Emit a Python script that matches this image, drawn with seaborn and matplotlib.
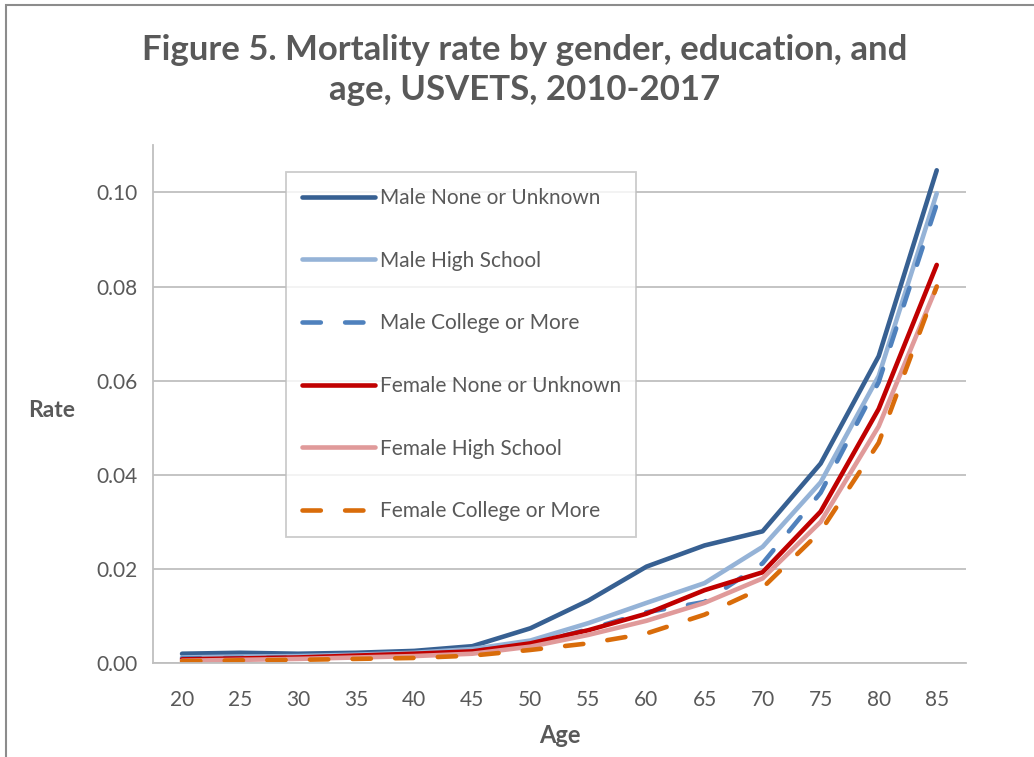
import matplotlib.pyplot as plt
import numpy as np
import pandas as pd
import seaborn as sns
from matplotlib.patches import Rectangle

# Data
ages = [20, 25, 30, 35, 40, 45, 50, 55, 60, 65, 70, 75, 80, 85]
male_none = [0.0020, 0.0022, 0.0020, 0.0022, 0.0026, 0.0036, 0.0074, 0.0133, 0.0205, 0.0250, 0.0280, 0.0424, 0.0652, 0.1047]
male_hs = [0.0012, 0.0014, 0.0015, 0.0018, 0.0022, 0.0030, 0.0048, 0.0085, 0.0128, 0.0170, 0.0247, 0.0384, 0.0610, 0.0998]
male_college = [0.0010, 0.0011, 0.0012, 0.0014, 0.0018, 0.0025, 0.0040, 0.0072, 0.0108, 0.0130, 0.0212, 0.0362, 0.0597, 0.0975]
female_none = [0.0008, 0.0010, 0.0012, 0.0016, 0.0020, 0.0025, 0.0042, 0.0070, 0.0105, 0.0155, 0.0193, 0.0322, 0.0540, 0.0846]
female_hs = [0.0005, 0.0007, 0.0009, 0.0012, 0.0015, 0.0020, 0.0035, 0.0060, 0.0090, 0.0128, 0.0180, 0.0300, 0.0503, 0.0800]
female_college = [0.0004, 0.0006, 0.0007, 0.0009, 0.0011, 0.0016, 0.0028, 0.0042, 0.0063, 0.0103, 0.0160, 0.0280, 0.0468, 0.0800]

series_names = ['Male None or Unknown', 'Male High School', 'Male College or More',
                'Female None or Unknown', 'Female High School', 'Female College or More']
series_values = [male_none, male_hs, male_college, female_none, female_hs, female_college]

colors = ['#376092', '#95B3D7', '#4F81BD', '#C00000', '#E09A9A', '#D96C0A']
dash_styles = ['', '', (4, 5.3), '', '', (4, 5.3)]

df = pd.DataFrame({
    'Age': ages * len(series_names),
    'Rate': sum(series_values, []),
    'Series': [n for n in series_names for _ in ages],
})

sns.set_style("white")
plt.rcParams['font.family'] = ['Lato', 'DejaVu Sans']
text_color = '#595959'

fig = plt.figure(figsize=(10.34, 7.57), dpi=100)
ax = fig.add_axes([0.148, 0.124, 0.786, 0.684])

sns.lineplot(data=df, x='Age', y='Rate', hue='Series', style='Series',
             hue_order=series_names, style_order=series_names,
             palette=dict(zip(series_names, colors)),
             dashes=dict(zip(series_names, dash_styles)),
             linewidth=3.3, ax=ax, legend=False)

for line in ax.get_lines():
    line.set_solid_capstyle('round')
    line.set_dash_capstyle('round')

ax.set_xlim(17.5, 87.5)
ax.set_ylim(0, 0.11)
ax.set_xticks(ages)
ax.set_yticks(np.arange(0, 0.101, 0.02))
ax.set_yticklabels([f'{v:.2f}' for v in np.arange(0, 0.101, 0.02)])
ax.yaxis.grid(True, color='#BFBFBF', linewidth=1.3)
ax.set_axisbelow(True)
ax.tick_params(axis='y', length=0, labelsize=15, labelcolor=text_color, pad=11)
ax.tick_params(axis='x', length=0, labelsize=15, labelcolor=text_color, pad=19)

for s in ['top', 'right']:
    ax.spines[s].set_visible(False)
for s in ['left', 'bottom']:
    ax.spines[s].set_color('#BFBFBF')
    ax.spines[s].set_linewidth(1.3)

ax.set_xlabel('Age', fontsize=17, fontweight='bold', color=text_color, va='center')
ax.xaxis.set_label_coords(0.5, -0.139)
ax.set_ylabel('Rate', fontsize=16.5, fontweight='bold', color=text_color, rotation=0,
              ha='center', va='center')
ax.yaxis.set_label_coords(-0.125, 0.488)

fig.suptitle('Figure 5. Mortality rate by gender, education, and\nage, USVETS, 2010-2017',
             fontsize=25, fontweight='bold', color=text_color, x=0.507, y=0.955,
             linespacing=1.3)

leg = ax.legend(ax.get_lines(), series_names, loc='upper left',
                bbox_to_anchor=(0.1636, 0.948), frameon=True, fancybox=False,
                fontsize=15, labelcolor=text_color, handlelength=3.5,
                labelspacing=2.05, borderpad=0.75, handletextpad=0.25,
                borderaxespad=0)
leg.get_frame().set_edgecolor('#BFBFBF')
leg.get_frame().set_linewidth(1.3)

fig.patches.append(Rectangle((0.0055, -0.1), 1.2, 1.0934, transform=fig.transFigure,
                             fill=False, edgecolor='#8C8C8C', linewidth=1.5))

plt.savefig('out.png', dpi=100)
plt.close()
